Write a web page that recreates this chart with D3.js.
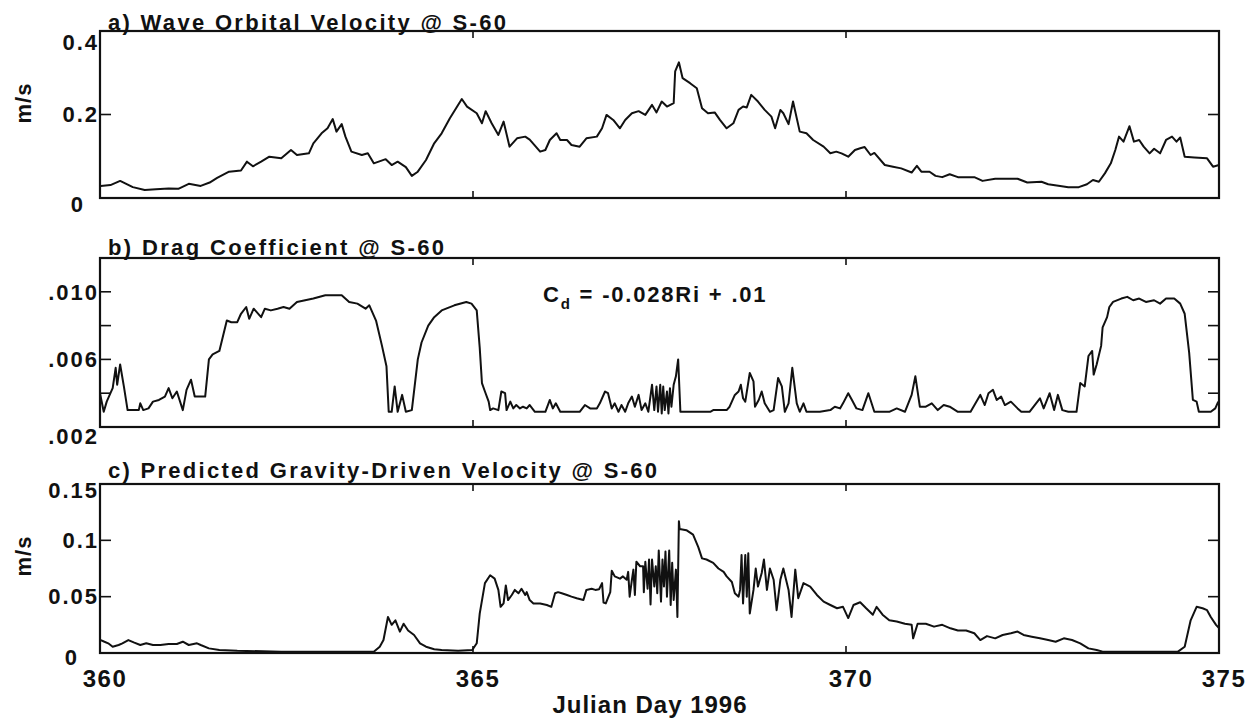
<!DOCTYPE html>
<html>
<head>
<meta charset="utf-8">
<script src="https://cdn.jsdelivr.net/npm/d3@7"></script>
<style>
  html, body { margin: 0; padding: 0; background: #fff; }
  svg { display: block; }
  text { font-family: "Liberation Sans", Arial, sans-serif; font-weight: bold; fill: #111; }
</style>
</head>
<body>
<svg id="chart" width="1259" height="721"></svg>
<script>
// ---- a) wave orbital velocity (m/s) ----
const waveDay = [
  360.01,360.14,360.27,360.44,360.60,360.75,360.92,361.05,361.19,361.35,
  361.47,361.57,361.73,361.89,361.97,362.05,362.16,362.27,362.43,362.56,
  362.64,362.80,362.86,362.97,363.05,363.12,363.17,363.24,363.29,363.37,
  363.51,363.59,363.67,363.83,363.91,363.99,364.10,364.18,364.26,364.37,
  364.48,364.58,364.69,364.85,364.92,365.05,365.12,365.17,365.25,365.34,
  365.41,365.49,365.59,365.70,365.76,365.90,365.97,366.03,366.12,366.17,
  366.26,366.32,366.43,366.52,366.66,366.73,366.79,366.88,366.97,367.04,
  367.13,367.22,367.31,367.40,367.46,367.53,367.60,367.69,367.71,367.76,
  367.81,367.91,368.00,368.07,368.15,368.24,368.31,368.40,368.49,368.56,
  368.62,368.67,368.73,368.82,368.91,369.00,369.05,369.12,369.16,369.23,
  369.29,369.38,369.47,369.56,369.70,369.79,369.87,369.94,370.03,370.12,
  370.19,370.25,370.33,370.38,370.52,370.63,370.74,370.88,370.95,371.01,
  371.12,371.20,371.29,371.39,371.50,371.72,371.83,372.00,372.30,372.43,
  372.62,372.71,372.87,372.98,373.12,373.23,373.31,373.39,373.47,373.55,
  373.61,373.66,373.72,373.80,373.86,373.93,373.99,374.07,374.13,374.21,
  374.29,374.37,374.43,374.48,374.54,374.67,374.84,374.92,375.00
];
const waveVel = [
  .029,.031,.041,.026,.019,.021,.023,.022,.034,.029,
  .037,.048,.063,.066,.087,.076,.087,.099,.095,.115,
  .103,.107,.131,.155,.167,.189,.159,.177,.147,.111,
  .103,.107,.083,.093,.079,.087,.074,.053,.063,.091,
  .131,.155,.191,.237,.219,.203,.179,.208,.179,.151,
  .183,.123,.143,.147,.140,.111,.115,.139,.155,.139,
  .139,.127,.123,.143,.147,.167,.199,.187,.167,.187,
  .203,.208,.199,.223,.205,.231,.219,.227,.303,.325,
  .287,.275,.263,.215,.203,.205,.187,.167,.179,.211,
  .219,.217,.247,.231,.211,.195,.167,.211,.203,.177,
  .231,.159,.155,.139,.123,.107,.111,.107,.099,.115,
  .119,.122,.103,.108,.079,.075,.071,.061,.077,.063,
  .063,.053,.050,.057,.050,.050,.041,.046,.046,.037,
  .039,.033,.029,.026,.026,.033,.043,.039,.059,.083,
  .115,.147,.135,.172,.135,.139,.123,.107,.118,.107,
  .139,.147,.135,.145,.099,.097,.095,.075,.079
];

// ---- b) drag coefficient ----
const dragDay = [
  360.00,360.05,360.09,360.14,360.17,360.21,360.23,360.27,360.32,360.37,
  360.52,360.54,360.58,360.65,360.71,360.79,360.87,360.92,360.97,361.03,
  361.11,361.16,361.22,361.27,361.41,361.46,361.51,361.60,361.65,361.70,
  361.76,361.84,361.89,361.96,362.00,362.06,362.16,362.21,362.29,362.38,
  362.46,362.54,362.64,362.75,362.86,363.02,363.13,363.24,363.34,363.45,
  363.56,363.61,363.70,363.78,363.84,363.87,363.91,363.95,363.99,364.05,
  364.10,364.18,364.26,364.31,364.40,364.48,364.58,364.75,364.91,364.98,
  365.05,365.09,365.12,365.16,365.21,365.23,365.27,365.34,365.38,365.43,
  365.45,365.50,365.54,365.58,365.63,365.67,365.72,365.76,365.83,365.97,
  366.03,366.07,366.11,366.17,366.30,366.43,366.50,366.57,366.66,366.70,
  366.77,366.81,366.86,366.90,366.95,366.99,367.04,367.08,367.13,367.17,
  367.22,367.26,367.31,367.35,367.40,367.43,367.46,367.48,367.51,367.53,
  367.55,367.57,367.60,367.62,367.64,367.66,367.69,367.72,367.75,367.78,
  367.95,368.18,368.22,368.40,368.44,368.51,368.56,368.59,368.62,368.65,
  368.71,368.76,368.78,368.83,368.87,368.91,368.98,369.03,369.09,369.14,
  369.18,369.23,369.28,369.34,369.38,369.43,369.47,369.65,369.79,369.85,
  369.92,369.96,370.03,370.08,370.14,370.22,370.30,370.38,370.58,370.68,
  370.79,370.88,370.93,370.99,371.07,371.15,371.23,371.31,371.39,371.50,
  371.67,371.80,371.86,371.91,371.97,372.02,372.08,372.13,372.21,372.30,
  372.35,372.46,372.60,372.65,372.73,372.79,372.84,372.90,372.98,373.09,
  373.14,373.20,373.25,373.30,373.32,373.36,373.42,373.44,373.50,373.53,
  373.58,373.69,373.77,373.85,373.93,374.02,374.13,374.21,374.29,374.40,
  374.48,374.54,374.60,374.65,374.70,374.73,374.89,374.95,374.99
];
const dragCoef = [
  .0040,.0029,.0035,.0040,.0043,.0055,.0045,.0057,.0044,.0030,
  .0030,.0034,.0030,.0031,.0035,.0036,.0038,.0043,.0037,.0041,
  .0030,.0042,.0048,.0038,.0038,.0060,.0063,.0065,.0074,.0083,
  .0082,.0082,.0087,.0091,.0084,.0090,.0085,.0090,.0089,.0090,
  .0091,.0090,.0094,.0095,.0096,.0098,.0098,.0098,.0094,.0093,
  .0090,.0092,.0083,.0068,.0056,.0029,.0029,.0044,.0029,.0039,
  .0029,.0030,.0060,.0070,.0080,.0085,.0089,.0092,.0094,.0093,
  .0089,.0067,.0046,.0041,.0035,.0030,.0031,.0030,.0041,.0040,
  .0030,.0035,.0031,.0033,.0031,.0032,.0031,.0033,.0029,.0029,
  .0036,.0031,.0034,.0029,.0029,.0029,.0033,.0031,.0031,.0034,
  .0041,.0040,.0031,.0034,.0029,.0033,.0029,.0034,.0038,.0032,
  .0039,.0030,.0034,.0029,.0045,.0030,.0044,.0029,.0045,.0028,
  .0044,.0030,.0041,.0028,.0043,.0032,.0045,.0050,.0060,.0029,
  .0029,.0029,.0030,.0030,.0032,.0039,.0041,.0045,.0037,.0035,
  .0052,.0047,.0032,.0036,.0041,.0034,.0029,.0030,.0049,.0044,
  .0029,.0034,.0055,.0034,.0029,.0034,.0029,.0029,.0030,.0032,
  .0031,.0034,.0040,.0036,.0031,.0030,.0040,.0029,.0029,.0031,
  .0029,.0039,.0050,.0032,.0032,.0034,.0030,.0033,.0032,.0029,
  .0029,.0039,.0033,.0040,.0042,.0036,.0038,.0033,.0035,.0031,
  .0029,.0029,.0037,.0031,.0040,.0030,.0039,.0030,.0029,.0029,
  .0046,.0044,.0062,.0065,.0051,.0057,.0068,.0079,.0085,.0091,
  .0094,.0096,.0097,.0095,.0096,.0094,.0095,.0093,.0096,.0096,
  .0093,.0087,.0064,.0036,.0035,.0029,.0029,.0031,.0035
];

// ---- c) predicted gravity-driven velocity (m/s) ----
const gravDay = [
  360.01,360.06,360.11,360.17,360.25,360.30,360.38,360.46,360.54,360.62,
  360.71,360.81,360.92,361.03,361.11,361.19,361.30,361.35,361.46,361.60,
  361.84,362.43,362.97,363.67,363.75,363.80,363.86,363.91,363.96,364.02,
  364.07,364.13,364.21,364.29,364.37,364.48,364.58,364.80,364.99,365.05,
  365.09,365.16,365.23,365.29,365.34,365.37,365.41,365.44,365.47,365.52,
  365.56,365.61,365.65,365.70,365.72,365.76,365.81,365.90,365.99,366.05,
  366.10,366.14,366.19,366.26,366.32,366.39,366.48,366.52,366.59,366.64,
  366.69,366.73,366.75,366.78,366.84,366.86,366.90,366.97,367.01,367.06,
  367.08,367.10,367.13,367.15,367.17,367.19,367.24,367.28,367.29,367.31,
  367.34,367.36,367.38,367.40,367.43,367.45,367.47,367.49,367.52,367.54,
  367.56,367.58,367.60,367.63,367.65,367.67,367.69,367.72,367.74,367.76,
  367.77,367.86,367.95,368.02,368.07,368.13,368.22,368.29,368.36,368.40,
  368.47,368.51,368.56,368.58,368.60,368.62,368.65,368.67,368.69,368.71,
  368.76,368.79,368.82,368.87,368.90,368.94,368.98,369.03,369.07,369.12,
  369.16,369.23,369.27,369.32,369.36,369.43,369.52,369.61,369.70,369.79,
  369.88,369.96,370.03,370.10,370.19,370.27,370.36,370.41,370.49,370.58,
  370.68,370.79,370.88,370.90,370.96,371.07,371.18,371.29,371.40,371.50,
  371.61,371.72,371.80,371.89,372.00,372.10,372.21,372.30,372.38,372.49,
  372.60,372.71,372.81,372.92,373.03,373.14,373.25,373.36,373.44,374.45,
  374.54,374.62,374.70,374.78,374.84,374.89,374.96,375.00
];
const gravVel = [
  .0115,.0100,.0086,.0056,.0071,.0086,.0115,.0092,.0071,.0086,
  .0071,.0071,.0080,.0080,.0100,.0071,.0086,.0071,.0041,.0027,
  .0020,.0012,.0012,.0012,.0056,.0115,.0320,.0250,.0290,.0190,
  .0260,.0200,.0160,.0086,.0056,.0033,.0027,.0020,.0027,.0086,
  .0350,.0620,.0690,.0660,.0560,.0410,.0440,.0600,.0470,.0515,
  .0560,.0530,.0570,.0515,.0540,.0470,.0440,.0440,.0426,.0410,
  .0530,.0540,.0530,.0515,.0500,.0486,.0470,.0560,.0570,.0560,
  .0566,.0620,.0447,.0440,.0540,.0730,.0680,.0660,.0680,.0650,
  .0720,.0500,.0650,.0740,.0515,.0810,.0770,.0770,.0540,.0810,
  .0570,.0830,.0430,.0830,.0590,.0770,.0530,.0910,.0456,.0830,
  .0590,.0900,.0500,.0910,.0426,.0800,.0470,.0740,.0320,.1170,
  .1100,.1090,.1050,.0940,.0840,.0830,.0800,.0750,.0720,.0680,
  .0630,.0530,.0500,.0560,.0870,.0440,.0870,.0500,.0885,.0350,
  .0560,.0750,.0590,.0710,.0830,.0560,.0750,.0650,.0380,.0650,
  .0750,.0560,.0320,.0740,.0486,.0620,.0590,.0515,.0456,.0426,
  .0397,.0410,.0310,.0426,.0450,.0397,.0340,.0410,.0340,.0290,
  .0280,.0260,.0250,.0130,.0260,.0260,.0234,.0250,.0219,.0200,
  .0200,.0175,.0115,.0150,.0130,.0160,.0175,.0190,.0160,.0145,
  .0130,.0115,.0100,.0130,.0115,.0086,.0041,.0027,.0012,.0012,
  .0056,.0290,.0410,.0397,.0380,.0320,.0250,.0220
];

// ---- axis values ----
const dayTicks = [365, 370];
const dayLabels = [360, 365, 370, 375];
const waveTickMarks = [0.2];
const waveTickLabels = [0, 0.2, 0.4];
const dragTickMarks = [0.004, 0.006, 0.008, 0.010];
const dragTickLabels = [0.002, 0.006, 0.010];
const gravTickMarks = [0.05, 0.1];
const gravTickLabels = [0, 0.05, 0.1, 0.15];

const INK = "#111";
const svg = d3.select("#chart");

const x = d3.scaleLinear().domain([360, 375]).range([100, 1219]);
const xLeft = x.range()[0], xRight = x.range()[1];
const Y_TICK = 11, X_TICK = 7;

const plainFmt = v => (v === 0 ? "0" : String(v));
const dragFmt = v => d3.format(".3f")(v).replace(/^0/, "");

const panels = [
  {
    title: "a) Wave Orbital Velocity @ S-60", titleY: 30, titleLen: 398,
    top: 31, bottom: 198, domain: [0, 0.4],
    days: waveDay, vals: waveVel,
    marks: waveTickMarks, labels: waveTickLabels, fmt: plainFmt,
    unitY: 103, shiftTop: 11, shiftBottom: 6, zeroRight: 85
  },
  {
    title: "b) Drag Coefficient @ S-60", titleY: 255, titleLen: 336,
    top: 258, bottom: 427, domain: [0.002, 0.012],
    days: dragDay, vals: dragCoef,
    marks: dragTickMarks, labels: dragTickLabels, fmt: dragFmt,
    unitY: null, shiftTop: 0, shiftBottom: 9, zeroRight: null
  },
  {
    title: "c) Predicted Gravity-Driven Velocity @ S-60", titleY: 478, titleLen: 549,
    top: 484, bottom: 653, domain: [0, 0.15],
    days: gravDay, vals: gravVel,
    marks: gravTickMarks, labels: gravTickLabels, fmt: plainFmt,
    unitY: 556, shiftTop: 6, shiftBottom: 4, zeroRight: 79
  }
];

panels.forEach(p => {
  const y = d3.scaleLinear().domain(p.domain).range([p.bottom, p.top]);
  const g = svg.append("g");

  // data trace
  const line = d3.line().x(d => x(d[0])).y(d => y(d[1]));
  g.append("path")
    .datum(d3.zip(p.days, p.vals))
    .attr("fill", "none")
    .attr("stroke", INK)
    .attr("stroke-width", 2)
    .attr("stroke-linejoin", "round")
    .attr("d", line);

  // inward tick marks: value ticks on left/right, day ticks on top/bottom
  const ticks = g.append("g").attr("stroke", INK).attr("stroke-width", 1.6);
  ticks.selectAll("line.yl").data(p.marks).join("line").attr("class", "yl")
    .attr("x1", xLeft).attr("x2", xLeft + Y_TICK)
    .attr("y1", d => y(d)).attr("y2", d => y(d));
  ticks.selectAll("line.yr").data(p.marks).join("line").attr("class", "yr")
    .attr("x1", xRight - Y_TICK).attr("x2", xRight)
    .attr("y1", d => y(d)).attr("y2", d => y(d));
  ticks.selectAll("line.xt").data(dayTicks).join("line").attr("class", "xt")
    .attr("x1", d => x(d)).attr("x2", d => x(d))
    .attr("y1", p.top).attr("y2", p.top + X_TICK);
  ticks.selectAll("line.xb").data(dayTicks).join("line").attr("class", "xb")
    .attr("x1", d => x(d)).attr("x2", d => x(d))
    .attr("y1", p.bottom - X_TICK).attr("y2", p.bottom);

  // value labels
  g.append("g").selectAll("text").data(p.labels).join("text")
    .attr("x", d => (d === 0 && p.zeroRight !== null) ? p.zeroRight : xLeft - 1)
    .attr("y", d => y(d) + (d === p.domain[1] ? p.shiftTop : d === p.domain[0] ? p.shiftBottom : 0))
    .attr("dy", "0.35em")
    .attr("text-anchor", "end")
    .style("font-size", "22px")
    .style("letter-spacing", "2px")
    .text(p.fmt);

  // frame
  g.append("rect")
    .attr("x", xLeft).attr("y", p.top)
    .attr("width", xRight - xLeft).attr("height", p.bottom - p.top)
    .attr("fill", "none").attr("stroke", INK).attr("stroke-width", 2.2);

  // panel title
  g.append("text")
    .attr("x", 108).attr("y", p.titleY)
    .attr("textLength", p.titleLen).attr("lengthAdjust", "spacing")
    .style("font-size", "22px")
    .text(p.title);

  // unit label
  if (p.unitY !== null) {
    g.append("text")
      .attr("transform", `translate(23,${p.unitY}) rotate(-90)`)
      .attr("text-anchor", "middle")
      .attr("dominant-baseline", "central")
      .style("font-size", "22px")
      .style("letter-spacing", "1px")
      .text("m/s");
  }
});

// drag-coefficient relation
const eq = svg.append("text")
  .attr("x", 543).attr("y", 302)
  .style("font-size", "22px")
  .style("letter-spacing", "1.8px");
eq.append("tspan").text("C");
eq.append("tspan").attr("dy", 7).style("font-size", "15px").text("d");
eq.append("tspan").attr("dy", -7).text(" = -0.028Ri + .01");

// shared day labels under the last panel
const last = panels[panels.length - 1];
svg.append("g").selectAll("text").data(dayLabels).join("text")
  .attr("x", d => x(d) + 5)
  .attr("y", last.bottom + 34)
  .attr("text-anchor", "middle")
  .style("font-size", "24px")
  .style("letter-spacing", "1.5px")
  .text(d3.format("d"));

svg.append("text")
  .attr("x", 650).attr("y", 713)
  .attr("text-anchor", "middle")
  .style("font-size", "24px")
  .style("letter-spacing", "1px")
  .text("Julian Day 1996");
</script>
</body>
</html>
